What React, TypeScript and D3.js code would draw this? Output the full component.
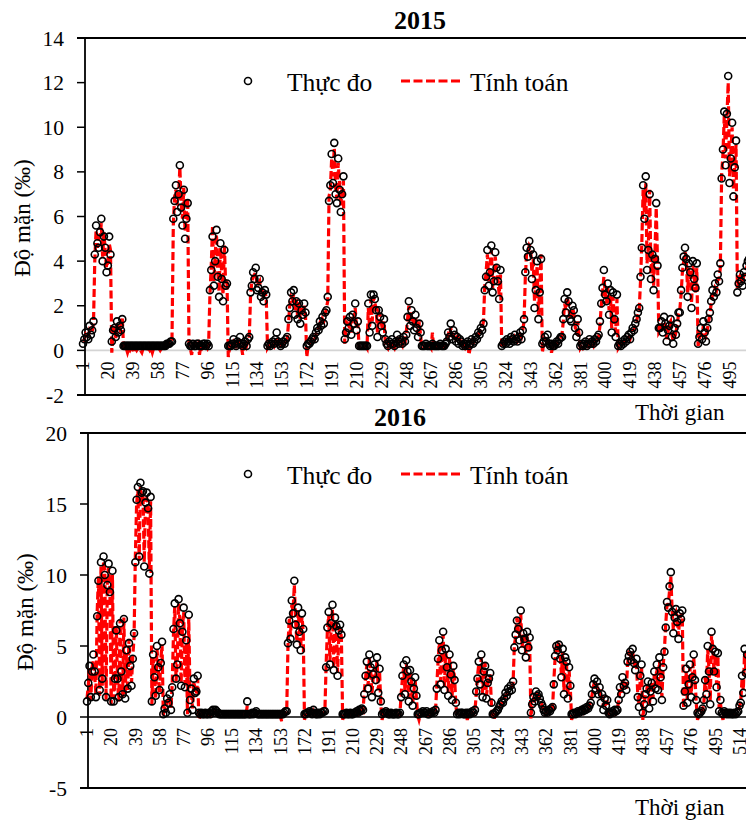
import React from "react";
import * as d3 from "d3";

// ---------- DATA ----------
const titles = ["2015", "2016"];
const legendLabels = ["Thực đo", "Tính toán"];
const yAxisTitle = "Độ mặn (‰)";
const xAxisTitle = "Thời gian";
const yTicks2015 = [-2, 0, 2, 4, 6, 8, 10, 12, 14];
const yTicks2016 = [-5, 0, 5, 10, 15, 20];
const xLabelStep = 19;

const obs2015 = [
  0.3,0.5,0.8,0.6,0.5,1.1,0.7,0.9,1.3,
  4.3,5.6,4.8,4.6,5.3,5.9,4.0,5.1,4.6,3.5,3.8,5.1,4.3,
  0.4,0.9,1.0,0.6,1.3,0.8,1.1,0.9,1.4,
  0.2,0.2,0.2,0.2,0.2,0.2,0.2,0.2,0.2,0.2,0.2,0.2,0.2,0.2,0.2,0.2,0.2,0.2,0.2,0.2,0.2,0.2,0.2,0.2,0.2,0.2,0.2,0.2,0.2,0.2,0.2,0.2,0.2,0.3,0.3,
  0.3,0.4,0.4,
  5.9,6.7,7.4,6.2,7.0,8.3,6.4,5.6,7.2,5.0,5.9,6.6,
  0.3,0.2,0.2,0.3,0.2,0.2,0.3,0.3,0.2,0.2,0.2,0.3,0.3,0.2,0.3,0.2,
  2.7,3.6,5.1,2.9,4.0,5.4,3.3,2.4,4.8,3.2,2.2,4.5,2.9,3.0,
  0.2,0.2,0.2,0.3,0.5,0.3,0.2,0.4,0.3,0.6,0.3,0.2,0.3,0.4,0.2,0.5,0.6,
  2.6,2.9,3.5,3.2,3.7,2.7,2.8,3.2,2.4,2.6,2.2,2.7,2.5,
  0.2,0.3,0.2,0.3,0.4,0.3,0.5,0.8,0.4,0.3,0.2,0.3,0.4,0.3,0.5,0.6,
  1.4,1.9,2.6,2.2,2.7,1.6,2.2,1.4,2.1,1.2,1.8,1.6,2.1,1.7,
  0.2,0.3,0.3,0.4,0.5,0.6,0.5,0.8,1.0,0.9,1.3,1.1,1.5,1.2,1.7,1.8,2.4,
  6.7,7.4,8.8,7.5,9.3,7.0,6.6,8.6,7.2,6.2,7.0,7.8,
  0.5,0.8,1.3,1.0,1.5,0.7,1.6,1.2,2.1,0.9,1.3,
  0.2,0.2,0.2,0.2,0.2,0.2,0.2,
  2.1,0.8,2.5,1.1,2.5,2.3,1.8,0.6,1.8,1.5,1.1,0.8,1.4,0.5,
  0.3,0.2,0.4,0.3,0.5,0.3,0.2,0.4,0.7,0.3,0.5,0.4,0.3,0.6,0.4,
  0.7,1.5,2.2,1.1,1.8,1.3,0.9,1.6,1.0,0.6,1.2,0.8,
  0.2,0.2,0.2,0.3,0.2,0.2,0.2,0.2,0.3,0.2,0.2,0.2,0.2,0.2,0.3,0.2,0.2,0.2,0.3,
  0.4,0.8,0.6,1.2,0.5,0.9,0.7,0.4,0.6,0.3,0.5,0.4,
  0.2,0.3,0.2,0.3,0.4,0.2,0.3,0.5,0.3,
  0.4,0.6,0.5,0.8,0.7,1.0,0.9,1.2,
  2.7,3.3,4.5,2.9,3.5,4.7,2.6,3.1,4.4,3.7,3.1,2.3,3.6,
  0.2,0.3,0.4,0.3,0.5,0.4,0.3,0.6,0.5,0.4,0.7,0.5,0.4,0.6,0.8,0.5,0.9,1.4,
  3.5,4.6,4.2,4.9,4.5,3.2,4.3,1.9,2.7,4.0,1.4,2.6,4.1,
  0.3,0.4,0.6,0.4,0.7,0.3,0.2,0.3,0.2,0.2,0.3,0.4,0.3,0.5,0.6,
  0.6,1.4,2.3,1.7,2.6,2.2,1.4,1.3,2.0,1.8,1.0,0.6,1.4,0.8,
  0.2,0.3,0.2,0.3,0.4,0.2,0.3,0.5,0.3,0.4,0.3,0.5,0.4,0.6,0.7,
  1.3,2.1,2.8,3.6,2.5,2.2,3.0,1.6,2.7,0.8,2.6,1.4,0.6,2.5,
  0.2,0.3,0.2,0.4,0.3,0.5,0.4,0.6,0.7,0.5,0.8,1.0,0.9,1.2,1.4,1.7,1.9,
  3.3,4.6,7.4,5.9,7.8,3.6,4.5,7.0,3.2,4.3,2.7,4.1,6.6,3.8,1.0,
  1.0,1.3,0.8,1.5,1.2,0.4,0.9,1.1,1.4,0.6,0.3,1.0,0.7,1.2,1.7,
  1.7,2.7,3.7,4.2,4.6,4.1,2.4,3.9,3.5,1.9,4.0,3.2,2.8,3.9,
  0.3,0.6,1.0,0.5,1.3,0.8,0.4,1.0,1.4,
  1.7,2.2,2.7,2.4,3.0,2.6,3.4,3.1,3.9,
  7.7,9.0,10.7,8.3,10.6,12.3,7.5,8.6,10.2,6.9,8.2,9.4,
  2.6,3.0,3.4,3.1,2.9,3.5,3.3,3.8,4.0,4.1,
];

const calc2015 = [
  0.4,0.5,0.7,0.6,0.6,0.9,0.8,0.8,1.2,
  4.0,5.4,4.6,5.0,5.1,5.7,4.2,5.3,4.4,3.7,4.0,4.8,4.5,
  -0.1,0.7,1.1,0.5,1.2,0.9,1.0,0.8,1.5,
  0.1,0.0,0.1,-0.1,0.1,0.0,0.1,0.1,-0.1,0.1,0.0,0.1,0.1,0.0,-0.1,0.1,0.1,0.0,0.1,0.1,0.0,0.1,-0.1,0.1,0.1,0.0,0.1,0.1,0.0,0.1,0.1,0.1,0.2,0.2,0.2,
  0.3,0.3,0.5,
  5.6,6.9,7.2,6.5,6.8,8.2,6.6,5.9,7.3,5.3,6.2,6.8,
  0.2,0.1,-0.2,0.2,0.3,0.1,0.2,0.3,-0.2,0.2,0.1,0.2,0.3,0.2,0.1,0.3,
  2.5,3.8,5.6,3.1,4.3,5.2,3.5,2.6,4.6,3.4,2.5,4.7,3.0,3.2,
  -0.3,0.1,0.2,0.3,0.4,0.3,0.1,0.4,0.2,0.5,0.2,-0.2,0.3,0.4,0.2,0.4,0.5,
  2.4,3.1,3.3,3.4,3.5,2.9,3.0,3.1,2.6,2.8,2.3,2.6,2.4,
  0.1,0.2,0.2,0.3,0.3,0.2,0.4,0.6,0.4,0.2,0.1,0.3,0.3,0.2,0.4,0.5,
  1.2,2.0,2.4,2.3,2.5,1.8,2.3,1.5,2.2,1.4,1.9,1.7,2.0,1.6,
  -0.3,0.2,0.3,0.4,0.4,0.6,0.5,0.7,0.9,1.0,1.2,1.1,1.4,1.3,1.6,1.9,2.2,
  6.9,7.2,8.6,7.8,9.1,7.3,6.8,8.4,7.5,6.5,7.2,7.6,
  0.3,0.9,1.2,1.1,1.4,0.8,1.5,1.3,1.9,1.0,1.2,
  0.1,0.1,0.2,0.1,0.1,0.2,0.1,
  1.9,1.0,2.3,1.3,2.4,2.1,1.9,0.8,1.7,1.6,1.2,0.9,1.3,0.4,
  0.2,0.1,0.3,0.3,0.4,0.2,0.1,0.3,0.6,0.2,0.4,0.3,0.2,0.5,0.3,
  0.8,1.4,2.0,1.3,1.7,1.4,1.0,1.5,1.1,0.7,1.3,0.6,
  0.1,0.1,0.2,0.2,0.1,0.1,0.2,0.1,0.8,0.1,0.1,0.2,0.1,0.1,0.2,0.1,0.1,0.2,0.2,
  0.5,0.7,0.6,1.0,0.6,0.8,0.7,0.5,0.6,0.4,0.5,0.3,
  0.1,0.2,0.1,0.2,0.3,-0.2,0.2,0.4,0.3,
  0.4,0.5,0.6,0.7,0.8,0.9,1.0,1.3,
  2.9,3.5,4.3,3.1,3.8,4.5,2.8,3.3,4.2,3.6,3.2,2.5,3.4,
  0.1,0.2,0.3,0.3,0.4,0.3,0.3,0.5,0.4,0.4,0.6,0.5,0.4,0.5,0.7,0.6,0.9,1.3,
  3.3,4.4,4.4,4.7,4.6,3.5,4.1,2.2,2.9,3.8,1.6,2.8,4.3,
  -0.1,0.3,0.5,0.4,0.6,0.3,0.2,-0.1,0.2,0.1,0.2,0.3,0.3,0.4,0.5,
  0.7,1.3,2.1,1.8,2.4,2.1,1.5,1.4,1.9,1.7,1.1,0.7,1.3,0.7,
  0.1,0.2,0.1,0.2,0.3,0.1,0.2,0.4,0.3,0.3,0.2,0.4,0.3,0.5,0.6,
  1.1,2.0,2.6,3.3,2.6,2.1,2.8,1.8,2.5,1.0,2.4,1.5,0.8,2.3,
  0.1,0.2,0.2,0.3,0.3,0.4,0.4,0.5,0.6,0.5,0.7,0.9,0.9,1.1,1.3,1.6,1.8,
  3.1,4.8,7.2,6.2,7.5,3.9,4.7,7.2,3.4,4.5,2.9,4.3,6.4,4.0,0.8,
  0.9,1.2,0.9,1.3,1.1,0.5,0.8,1.2,1.3,0.7,0.4,0.9,0.8,1.1,1.6,
  1.8,2.5,3.5,4.0,4.4,4.2,2.6,3.7,3.4,2.1,3.8,3.3,2.6,3.7,
  0.2,0.5,0.9,0.6,1.1,0.8,0.5,0.9,1.3,
  1.6,2.1,2.5,2.5,2.8,2.7,3.2,3.2,3.7,
  7.9,8.8,10.5,8.6,10.4,12.0,7.8,8.8,10.0,7.2,8.4,9.2,
  2.8,3.1,3.3,3.2,3.0,3.4,3.4,3.7,3.9,4.0,
];

const obs2016 = [
  1.1,2.4,3.6,1.4,3.2,4.4,3.2,1.4,7.1,9.6,1.9,10.9,2.7,11.3,10.0,1.4,9.3,10.8,8.8,1.1,10.3,1.1,2.7,6.1,2.7,1.4,6.6,3.2,1.6,6.9,1.3,4.7,2.0,5.2,3.6,2.2,4.1,5.9,10.9,15.3,16.2,11.3,16.5,15.8,15.9,10.6,15.1,15.8,14.7,10.1,15.5,
  1.1,4.4,2.8,1.5,5.0,3.5,1.9,3.8,5.3,0.2,0.6,0.3,1.3,1.0,1.6,0.5,2.1,6.2,8.0,2.7,3.7,8.3,6.6,2.2,6.0,7.7,2.1,5.4,0.3,7.2,1.2,2.0,0.5,2.7,1.7,1.8,2.9,0.3,
  0.2,0.3,0.2,0.2,0.3,0.2,0.2,0.3,0.2,
  0.4,0.5,0.3,0.5,0.4,0.3,0.2,
  0.2,0.2,0.2,0.2,0.2,0.2,0.2,0.2,0.2,0.2,0.2,0.2,0.2,0.2,0.2,0.2,0.2,0.2,0.2,0.2,0.2,
  1.1,
  0.2,0.2,0.2,0.3,0.2,0.3,
  0.4,
  0.2,0.2,0.2,0.2,0.2,0.2,0.2,0.2,0.2,0.2,0.2,0.2,0.2,0.2,0.2,0.2,0.2,0.2,0.2,0.2,0.2,
  0.3,0.4,
  0.4,5.2,6.8,5.5,8.2,7.3,9.6,6.5,5.1,7.7,6.0,4.7,7.3,6.2,
  0.2,0.2,0.3,0.3,0.4,0.3,0.2,0.5,0.3,0.2,0.2,0.3,0.2,0.3,0.3,0.4,0.4,
  3.5,6.3,7.4,3.7,6.6,7.9,3.3,7.0,6.4,2.9,6.1,6.5,5.8,
  0.2,0.2,0.2,0.3,0.2,0.2,0.3,0.2,0.2,0.3,0.3,0.4,0.3,0.5,0.4,0.6,
  0.5,1.6,2.9,3.9,2.0,4.4,3.5,1.4,3.0,3.7,2.6,4.2,1.7,3.4,1.1,
  0.2,0.3,0.3,0.4,0.3,0.2,0.2,0.3,0.2,0.2,0.2,0.3,0.2,0.2,0.3,
  1.4,2.9,3.7,1.6,4.0,3.2,1.1,3.3,2.5,0.8,2.0,2.8,1.5,
  0.2,0.2,0.3,0.3,0.4,0.3,0.3,0.4,0.2,0.2,0.3,0.3,0.4,0.3,0.5,
  2.0,4.1,5.4,2.3,4.7,6.0,1.9,4.8,3.5,1.5,4.4,3.0,1.2,3.6,2.6,1.0,
  0.2,0.3,0.2,0.3,0.3,0.2,0.2,0.3,0.2,0.3,0.2,0.3,0.4,0.3,0.5,
  1.8,2.7,3.9,2.3,4.4,1.4,3.2,3.6,1.3,2.4,2.7,3.1,1.0,
  0.2,0.2,0.3,0.4,0.5,0.7,0.9,1.1,1.0,1.3,1.7,1.5,2.0,1.8,2.2,1.9,2.5,
  4.9,5.8,6.8,6.2,5.4,7.5,4.7,5.9,5.5,4.2,6.0,4.9,5.6,
  0.3,0.9,1.4,1.1,1.8,1.5,1.6,1.3,1.0,0.8,0.5,
  0.3,0.4,0.3,0.5,0.4,0.6,0.7,
  2.3,4.3,5.0,4.7,5.1,4.1,2.8,4.8,1.6,4.2,3.9,1.3,3.5,2.2,
  0.2,0.2,0.3,0.2,0.3,0.4,0.3,0.4,0.5,0.4,0.6,0.5,0.7,0.6,0.8,
  1.0,1.6,2.3,2.7,1.9,2.5,1.6,2.1,1.0,1.6,0.5,1.3,0.8,1.2,
  0.3,0.2,0.3,0.4,0.3,0.5,0.4,
  0.5,1.2,2.1,1.6,2.8,2.2,2.4,1.9,3.9,4.3,4.6,4.0,4.8,3.8,3.3,4.1,1.4,0.7,2.9,3.7,0.3,0.9,1.6,
  2.0,2.5,0.6,1.8,2.4,1.1,3.2,2.0,3.7,1.9,4.2,2.8,1.2,3.5,4.6,
  6.3,8.1,7.7,9.2,10.2,7.4,5.9,7.0,7.6,6.7,5.5,7.3,6.9,7.5,
  0.8,1.8,3.4,1.0,2.3,3.7,1.4,2.8,4.4,2.6,1.2,
  0.3,0.2,0.3,0.4,0.6,1.2,
  2.6,1.6,5.0,3.2,0.9,6.0,4.8,3.2,4.6,2.1,4.5,0.4,1.2,
  0.3,0.2,0.4,0.3,0.2,0.3,0.2,0.3,0.2,0.2,0.3,0.2,0.3,
  0.4,0.8,1.0,2.9,1.7,4.8,3.1,4.4,
];

const calc2016 = [
  1.3,2.2,3.4,1.2,3.5,4.0,3.0,1.6,7.4,9.9,1.5,10.6,2.2,11.0,10.4,1.2,9.8,10.5,9.1,0.9,10.0,1.3,2.4,6.4,2.5,1.1,6.9,3.0,1.4,7.0,1.5,4.5,1.8,5.5,3.3,2.4,4.3,5.6,11.2,15.0,16.0,11.0,16.2,15.5,15.7,10.9,15.3,15.4,14.9,10.4,15.2,
  0.9,4.2,3.0,1.3,4.8,3.7,1.7,4.0,5.1,0.1,0.7,0.4,1.1,1.2,1.4,0.6,2.3,5.9,7.8,2.5,3.9,8.0,6.9,2.4,6.2,7.4,2.3,5.2,0.2,7.0,1.4,1.8,0.6,2.5,1.9,1.6,2.7,-0.2,
  0.1,0.2,0.1,0.1,0.2,0.1,0.1,0.2,0.1,
  0.3,0.4,0.3,0.4,0.3,0.2,0.1,
  0.1,0.1,0.2,0.1,0.1,0.2,0.1,0.1,0.1,0.2,0.1,0.1,0.2,0.1,0.1,0.1,0.2,0.1,0.1,0.2,0.1,
  0.8,
  0.1,0.1,0.2,0.2,0.1,0.2,
  0.3,
  0.1,0.1,0.2,0.1,0.1,0.2,0.1,0.1,0.1,0.2,0.1,0.1,0.2,0.1,0.1,0.1,0.2,0.1,0.1,-0.3,0.1,
  0.2,0.3,
  0.3,5.0,7.0,5.7,7.9,7.5,9.3,6.8,5.3,7.5,6.2,4.9,7.1,6.0,
  -0.2,0.1,0.2,0.2,0.3,0.2,0.1,0.4,0.2,0.1,0.1,0.2,0.1,0.2,0.2,0.3,0.3,
  3.7,6.1,7.2,3.9,6.4,7.6,3.5,6.8,6.6,3.1,5.9,6.3,5.6,
  -0.2,0.1,0.1,0.2,0.1,0.1,0.2,0.1,0.1,0.2,0.2,0.3,0.2,0.4,0.3,0.5,
  0.4,1.8,2.7,3.7,2.2,4.2,3.3,1.6,2.8,3.5,2.8,4.0,1.9,3.2,0.9,
  -0.2,0.2,0.2,0.3,0.2,0.1,0.1,0.2,0.1,0.1,0.1,0.2,0.1,0.1,0.2,
  1.6,2.7,3.5,1.8,3.8,3.0,1.3,3.1,2.7,1.0,1.8,2.6,1.3,
  0.1,-0.2,0.2,0.2,0.3,0.2,0.2,0.3,0.1,0.1,0.2,0.2,0.3,0.2,0.4,
  2.2,3.9,5.2,2.5,4.5,5.8,2.1,4.6,3.7,1.7,4.2,3.2,1.4,3.4,2.8,0.8,
  0.1,0.2,0.1,0.2,0.2,0.1,0.1,0.2,-0.2,0.2,0.1,0.2,0.3,0.2,0.4,
  1.6,2.9,3.7,2.5,4.2,1.6,3.0,3.8,1.5,2.2,2.9,2.9,0.8,
  0.1,-0.2,0.2,0.3,0.4,0.6,0.8,1.0,1.1,1.2,1.5,1.6,1.8,1.9,2.0,2.1,2.4,
  5.1,5.6,7.0,6.0,5.6,7.3,4.9,5.7,5.7,4.4,5.8,5.1,5.4,
  -0.1,1.0,1.3,1.2,1.6,1.6,1.5,1.2,1.1,0.7,0.4,
  0.2,0.3,0.2,0.4,0.3,0.5,0.6,
  2.5,4.1,5.2,4.5,5.3,4.3,3.0,4.6,1.8,4.0,3.7,1.5,3.3,2.0,
  -0.2,0.1,0.2,0.1,0.2,0.3,0.2,0.3,0.4,0.3,0.5,0.4,0.6,0.5,0.7,
  1.2,1.5,2.1,2.5,2.0,2.4,1.7,2.0,1.2,1.5,0.7,1.2,0.9,1.0,
  0.2,0.1,0.2,0.3,0.2,0.4,0.3,
  0.6,1.1,2.0,1.7,2.6,2.3,2.3,2.0,3.7,4.5,4.4,4.2,4.6,3.9,3.5,3.9,1.6,0.9,2.7,3.5,-0.2,1.0,1.5,
  1.9,2.4,0.8,1.7,2.5,1.3,3.0,2.2,3.5,2.1,4.0,2.9,1.4,3.6,4.8,
  6.5,7.9,7.9,8.9,9.9,7.6,6.1,7.2,7.4,6.9,5.7,7.1,7.1,7.3,
  0.6,1.9,3.2,1.2,2.5,3.5,1.6,2.9,4.2,2.7,1.0,
  -0.2,0.1,0.2,0.3,0.5,1.0,
  2.8,1.8,4.8,3.4,1.1,5.8,4.9,3.0,4.4,2.3,4.3,0.6,1.0,
  0.2,-0.2,0.3,0.2,0.1,0.2,0.1,0.2,0.1,0.1,0.2,0.1,0.2,
  0.3,0.7,1.1,2.7,1.9,4.6,3.3,4.2,
];

// ---------- LAYOUT ----------
const FONT = "'Liberation Serif', 'Times New Roman', 'DejaVu Serif', serif";
const W = 746;
const H = 820;

type Cfg = {
  axisX: number; x0: number; x1: number; refCat: number;
  yTop: number; yBottom: number; zeroColor: string;
  titleX: number; titleY: number; legendY: number;
  yTitleX: number; yTitleY: number; xTitleY: number;
};

const cfg2015: Cfg = {
  axisX: 85, x0: 83, x1: 729.5, refCat: 495,
  yTop: 38, yBottom: 395, zeroColor: "#d4d4d4",
  titleX: 420, titleY: 29, legendY: 81,
  yTitleX: 30, yTitleY: 218, xTitleY: 420,
};
const cfg2016: Cfg = {
  axisX: 88, x0: 87, x1: 739.5, refCat: 514,
  yTop: 433, yBottom: 788, zeroColor: "#000",
  titleX: 400, titleY: 426, legendY: 474,
  yTitleX: 33, yTitleY: 612, xTitleY: 815,
};

const txt = (size: number, bold = false): React.CSSProperties => ({
  fontFamily: FONT,
  fontSize: `${size}px`,
  fontWeight: bold ? 700 : 400,
});

function Panel({ obs, calc, title, yTicks, cfg }: { obs: number[]; calc: number[]; title: string; yTicks: number[]; cfg: Cfg }) {
  const x = d3.scaleLinear().domain([1, cfg.refCat]).range([cfg.x0, cfg.x1]);
  const y = d3
    .scaleLinear()
    .domain([yTicks[0], yTicks[yTicks.length - 1]])
    .range([cfg.yBottom, cfg.yTop]);
  const line = d3
    .line<number>()
    .x((_, i) => x(i + 1))
    .y((d) => y(d));
  const n = Math.max(obs.length, calc.length);
  const xLabels = d3.range(1, n + 1, xLabelStep);
  const y0 = y(0);
  const ax = cfg.axisX;

  return (
    <g>
      {/* frame */}
      <line x1={ax - 8} x2={W} y1={cfg.yTop} y2={cfg.yTop} stroke="#000" strokeWidth={1.8} />
      <line x1={ax - 8} x2={W} y1={cfg.yBottom} y2={cfg.yBottom} stroke="#000" strokeWidth={1.8} />
      <line x1={ax} x2={W} y1={y0} y2={y0} stroke={cfg.zeroColor} strokeWidth={1.6} />
      <line x1={ax} x2={ax} y1={cfg.yTop} y2={cfg.yBottom} stroke="#000" strokeWidth={1.8} />
      {yTicks.map((t) => (
        <g key={t}>
          <line x1={ax - 8} x2={ax} y1={y(t)} y2={y(t)} stroke="#000" strokeWidth={1.5} />
          <text x={ax - 21} y={y(t)} dy="0.35em" textAnchor="end" style={txt(21.5)}>
            {t}
          </text>
        </g>
      ))}
      {xLabels.map((v) => (
        <text
          key={v}
          transform={`translate(${x(v)},${y0 + 11}) rotate(-90)`}
          dy="0.35em"
          textAnchor="end"
          style={txt(18)}
        >
          {v}
        </text>
      ))}
      {/* series */}
      <path d={line(calc) || ""} fill="none" stroke="#ff0000" strokeWidth={3.2} strokeDasharray="8,3.5" />
      {obs.map((d, i) => (
        <circle key={i} cx={x(i + 1)} cy={y(d)} r={3.5} fill="none" stroke="#000" strokeWidth={1.6} />
      ))}
      {/* title */}
      <text x={cfg.titleX} y={cfg.titleY} textAnchor="middle" style={txt(26, true)}>
        {title}
      </text>
      {/* legend */}
      <circle cx={248} cy={cfg.legendY} r={3.5} fill="none" stroke="#000" strokeWidth={1.6} />
      <text x={287} y={cfg.legendY + 9.5} style={txt(25.5)}>
        {legendLabels[0]}
      </text>
      <line x1={401} x2={463} y1={cfg.legendY} y2={cfg.legendY} stroke="#ff0000" strokeWidth={3.2} strokeDasharray="9,3.5" />
      <text x={470} y={cfg.legendY + 9.5} style={txt(25.5)}>
        {legendLabels[1]}
      </text>
      {/* axis titles */}
      <text
        transform={`translate(${cfg.yTitleX},${cfg.yTitleY}) rotate(-90)`}
        textAnchor="middle"
        style={txt(23)}
      >
        {yAxisTitle}
      </text>
      <text x={635} y={cfg.xTitleY} style={txt(23)}>
        {xAxisTitle}
      </text>
    </g>
  );
}

export default function App() {
  return (
    <svg
      width={W}
      height={H}
      viewBox={`0 0 ${W} ${H}`}
      style={{ position: "absolute", left: 0, top: 0, background: "#fff" }}
    >
      <rect x={0} y={0} width={W} height={H} fill="#fff" />
      <Panel obs={obs2015} calc={calc2015} title={titles[0]} yTicks={yTicks2015} cfg={cfg2015} />
      <Panel obs={obs2016} calc={calc2016} title={titles[1]} yTicks={yTicks2016} cfg={cfg2016} />
    </svg>
  );
}
